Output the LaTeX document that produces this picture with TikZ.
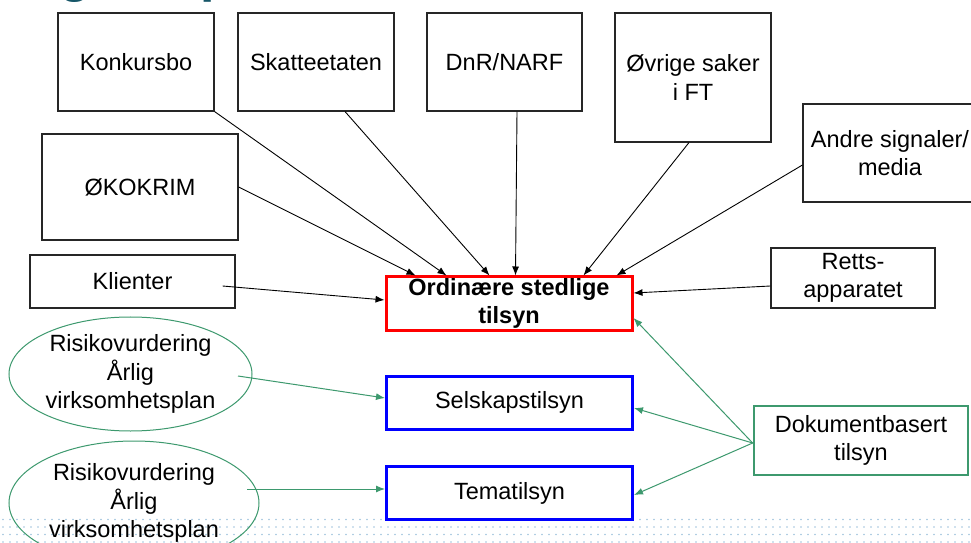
\documentclass[tikz,border=0pt]{standalone}
\usepackage{fontspec}
\setmainfont{Liberation Sans}
\usetikzlibrary{arrows.meta,shapes.geometric,calc}
\definecolor{titleteal}{RGB}{22,86,104}
\definecolor{grn}{RGB}{61,153,110}
\definecolor{dotblue}{RGB}{160,196,222}
\definecolor{boxblue}{RGB}{0,0,255}
\definecolor{boxred}{RGB}{255,0,0}
\begin{document}
\begin{tikzpicture}[x=1bp,y=-1bp,
  every node/.style={font=\fontsize{23.5bp}{28.5bp}\selectfont, align=center, inner sep=0pt},
  srcbox/.style={draw=black!85, line width=1.1bp, fill=white, rectangle},
  redbox/.style={draw=boxred, line width=3bp, fill=white, rectangle},
  bluebox/.style={draw=boxblue, line width=3bp, fill=white, rectangle},
  greenbox/.style={draw=grn, line width=2.7bp, fill=white, rectangle},
  planell/.style={draw=grn, line width=1bp, ellipse},
  blackarrow/.style={draw=black, line width=0.9bp, -{Latex[length=9bp,width=7bp]}},
  greenarrow/.style={draw=grn, line width=1bp, -{Latex[length=9bp,width=7bp]}},
  titlefrag/.style={text=titleteal, font=\fontsize{52bp}{60bp}\selectfont\bfseries, anchor=base}
]
\clip (0,0) rectangle (971,543);
\fill[white] (0,0) rectangle (971,543);

% dotted band at the bottom
\foreach \yy in {519.5,527,534.5,542}{
  \foreach \xx in {3,10,...,971}{
    \fill[dotblue] (\xx,\yy) circle (0.9bp);
  }
}

% cut-off title fragments
\node[titlefrag] (tg) at (75,-8.5) {g};
\node[titlefrag] (tp) at (216,-8.5) {p};

% source boxes
\node[srcbox, minimum width=156bp, minimum height=98bp] (konk) at (136,62) {Konkursbo};
\node[srcbox, minimum width=156bp, minimum height=98bp] (skat) at (316,62) {Skatteetaten};
\node[srcbox, minimum width=155bp, minimum height=98bp] (dnr) at (504.5,62) {DnR/NARF};
\node[srcbox, minimum width=156bp, minimum height=129bp] (ovr) at (693,77.5) {Øvrige saker\\ i FT};
\node[srcbox, minimum width=174bp, minimum height=98bp] (andre) at (890,153) {Andre signaler/\\media};
\node[srcbox, minimum width=196bp, minimum height=106bp] (oko) at (140,187) {ØKOKRIM};
\node[srcbox, minimum width=205bp, minimum height=53bp] (kli) at (132.5,281.5) {Klienter};
\node[srcbox, minimum width=164bp, minimum height=60bp] (retts) at (853,278) {Retts-\\apparatet};

% target boxes
\node[redbox, minimum width=246bp, minimum height=53bp, font=\fontsize{23.5bp}{28bp}\selectfont\bfseries] (ord) at (509,303.5) {Ordinære stedlige\\tilsyn};
\node[bluebox, minimum width=246bp, minimum height=53bp] (sel) at (509.5,402.5) {Selskapstilsyn};
\node[bluebox, minimum width=246bp, minimum height=53bp] (tem) at (509.5,493) {Tematilsyn};
\node[greenbox, minimum width=214bp, minimum height=69bp] (dok) at (861,440.5) {Dokumentbasert\\tilsyn};

% ellipses
\node[planell, minimum width=243bp, minimum height=114bp] (e1) at (130.5,374) {Risikovurdering\\Årlig\\virksomhetsplan};
\node[planell, minimum width=250bp, minimum height=124bp] (e2) at (134,503) {Risikovurdering\\Årlig\\virksomhetsplan};

% black arrows into the red box
\draw[blackarrow] (oko.east) -- ($(ord.north west)+(31,0)$);
\draw[blackarrow] (konk.south east) -- ($(ord.north west)+(62,0)$);
\draw[blackarrow] ($(skat.south)+(29,0)$) -- ($(ord.north west)+(105,0)$);
\draw[blackarrow] ($(dnr.south)+(12.5,0)$) -- ($(ord.north west)+(131,0)$);
\draw[blackarrow] ($(ovr.south)+(-4,0)$) -- ($(ord.north west)+(199,0)$);
\draw[blackarrow] ($(andre.west)+(0,12)$) -- ($(ord.north west)+(232,0)$);
\draw[blackarrow] ($(kli.east)+(-13,4.5)$) -- ($(ord.west)+(0,-3.5)$);
\draw[blackarrow] ($(retts.west)+(0,8)$) -- ($(ord.east)+(0,-10.5)$);

% green arrows
\draw[greenarrow] ($(e1.center)+(107.5,2)$) -- ($(sel.west)+(0,-4.5)$);
\draw[greenarrow] ($(e2.center)+(113,-14)$) -- ($(tem.west)+(0,-4)$);
\draw[greenarrow] ($(dok.west)+(0,2.5)$) -- ($(ord.east)+(0,14.5)$);
\draw[greenarrow] ($(dok.west)+(0,2.5)$) -- ($(sel.east)+(0,5.5)$);
\draw[greenarrow] ($(dok.west)+(0,2.5)$) -- ($(tem.east)+(0,2)$);
\end{tikzpicture}
\end{document}
